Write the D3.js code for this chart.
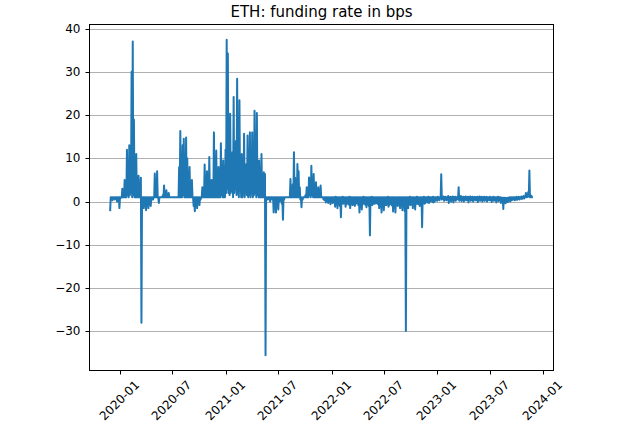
<!DOCTYPE html>
<html><head><meta charset="utf-8">
<script src="https://cdn.jsdelivr.net/npm/d3@7/dist/d3.min.js"></script>
<style>
body{margin:0;background:#fff}
svg{display:block}
text{font-family:"DejaVu Sans",sans-serif;fill:#000}
</style>
</head><body>
<svg id="chart" width="640" height="429"></svg>
<script>
// ---- data ----
const chartTitle = "ETH: funding rate in bps";
const startDate = "2019-11-29";   // first 4-day bin
const stepDays = 4;               // bin width; each bin holds its high and low reading
const binHigh = [
  // Nov 2019 - Jan 2020
  1,1,1,1,1,1,1,1,1,1,
  // Jan - Mar 2020
  3,1,5,1.5,12,3,13,6,30,37,19,4,11,3,6,2,5.5,1,1,
  // Mar - Jul 2020
  1,1,1,1,1,1,1,1,1,
  6.5,2,7,1,1,1,
  1,1.5,3.7,1,2.6,1,2,
  1,1,1,1,1,1,1,1,
  // Jul - Sep 2020
  8,16.3,3,13,14.5,4,14.8,10,3,8,2,5,
  1,1,1,1,1,1,1,1,
  // Oct 2020 - May 2021
  3.3,1,8.6,2,7,1.5,10.3,3,5,1.5,16,4,11.8,2,8,2,13.5,3,9.5,2,12,
  37.4,34.2,5,20.3,3,11.4,24.2,4,14,28.4,3,23.4,5,11,2,15.7,3,8.7,15.3,2,16,3,16,2,21,4,20.5,3,
  9.5,2,11,1.5,6.8,6.4,1,
  // May - Jul 2021
  1,1,1,1,1,1,1,1,1,1,1,1,1,1,1,1,1,1,1,1,
  // Aug - Nov 2021
  5.2,2,4,11.4,5.5,3,8.7,7,3.3,1,1,1,1,1.5,3.3,2,5.6,3,8.3,4,6.4,3,4.5,2,3.3,1.5,3.7,1,1,
  // Dec 2021 - Sep 2022
  1,1,1,1,1,1,1,1,1,1, 1.1,1,1,1,1,1,1.1,1,1,1,
  1,1,1.1,1,1,1,1,1,1,1, 1,1,1,1,1.1,1,1,1,1,1,
  1,1.1,1,1,1,1,1,1,1,1, 1,1,1,1,1,1.1,1,1,1,1,
  1,1,1,1,1,1,1,1,1,1,1,
  1,
  // Sep 2022 - Jan 2023
  1,1,1.1,1,1,1,1,1,1.1,1,1,1,1,1,1.1,1,1,1,1.1,1,1,1,1.1,1,1,1,1.1,1,1,6.3,
  // 2023
  1.1,1.2,1,1.1,1,1.3,1,1.1,1,1.2,1,1.1,1,1.1,3.3,1,1.3,1,1.1,1,
  1.2,1,1.1,1,1.2,1,1.1,1,1.1,1,1.1,1,1.2,1,1.1,1,1.1,1,1.1,1,
  1,1.1,1,1,1.1,1,1,1,1.1,1,1,0.9,0.9,0.9,0.9,0.8,0.9,0.9,1,1,
  1,1,1,1,1.1,1,1.1,1,1.2,1.1,1.3,1.2,2,1.5,2.2,7.2,1.5,1.2,1
];
const binLow = [
  // Nov 2019 - Jan 2020
  -2.2,0.5,0.3,0.8,0.5,1,0,0.6,-1.5,0.8,
  // Jan - Mar 2020
  1,1,1,1,1,1.5,1,1.5,2,1,1.5,1,1,1,1,1,1,-28,1,
  // Mar - Jul 2020
  -1.5,0.5,-2,-0.8,-1.5,0,-1,0.5,0.5,
  1,1,1,1,-0.3,1,
  1,1,1,1,1,1,1,
  1,1,1,1,1,1,1,1,
  // Jul - Sep 2020
  1,1,1,1,1.5,1,1,1,1,1,1,1,
  1,-1,-2.2,-0.5,-1.5,0,-0.8,0.5,
  // Oct 2020 - May 2021
  1,1,1,1,1,1,1,1,1,1,1,1,1,1,1,1,1,1.5,1,1,1,
  2,3,2,1.5,2,2.5,1,2,3,1.5,2,1,2.5,1,1,2,1,3,1.5,1,2,1,2.5,1,1.5,2,1,1.5,
  1,1,1,1,1,1,-35.5,
  // May - Jul 2021
  1,0.5,1,0,1,0.5,-2.5,-1,-2.5,0.5,-1.8,0,0.5,-0.5,-4.2,0.5,1,1,1,1,
  // Aug - Nov 2021
  1,1,1,1,1,1,1,1,1,0.5,-1.3,0.5,1,1,1,1,1,1.5,1,1.5,1,1,1,1,1,1,1,1,1,
  // Dec 2021 - Sep 2022
  0.5,0.3,-0.2,0.2,-0.3,0,-0.6,-0.2,-0.3,0,-1.2,-0.5,-1.5,-0.6,-1.0,-3.6,-0.3,-0.5,-0.4,-1.2,
  -0.6,-0.4,-0.7,-1.5,-0.5,-0.8,-0.6,-1,-0.5,-0.3,-0.8,-2.5,-0.6,-1.8,-0.5,-0.5,-0.7,-1.3,-0.6,-1,
  -7.8,-0.6,-0.8,-0.5,-0.5,-0.4,-0.3,-0.6,-1.5,-0.8,-2.5,-1,-2,-0.8,-0.8,-0.6,-1.2,-0.7,-0.5,-0.9,
  -2.3,-0.8,-2.5,-0.8,-1,-0.6,-1.5,-0.8,-2,-1,-2.2,
  -29.9,
  // Sep 2022 - Jan 2023
  -0.8,-1.5,-0.6,-0.8,-0.5,-1.5,-0.8,-1.8,-0.5,-0.5,-0.6,-1,-0.7,-5.9,-0.4,-0.5,-0.3,0,-0.2,-0.3,0,0.2,-0.1,-0.2,0.1,0.3,0.2,0.5,0.3,1,
  // 2023
  0.5,0.6,0.2,0.5,0.3,0.5,-0.3,0.4,0,0.5,-0.2,0.4,0.2,0.5,0.6,0.2,0.5,0.1,0.4,0,
  0.5,0.3,0.4,-0.2,0.5,0.2,0.4,0,0.5,0.3,0.4,-0.1,0.5,0.2,0.4,0,0.4,0.2,0.5,0,
  0.4,0.3,0.4,-0.1,0.4,0.2,0.3,-0.2,0.3,0.1,0.3,-0.3,0,-1.7,0,-0.4,0,-0.1,0.3,0,
  0.3,0.4,0.5,0.3,0.5,0.4,0.6,0.5,0.7,0.6,0.8,0.7,1,1,1.1,1.2,1,1,1
];
const yTickValues = [-30, -20, -10, 0, 10, 20, 30, 40];
const xTickLabels = ["2020-01","2020-07","2021-01","2021-07","2022-01","2022-07","2023-01","2023-07","2024-01"];

// ---- layout ----
const L = 89, R = 554, T = 24, B = 371;
const svg = d3.select("#chart");

const parse = d3.timeParse("%Y-%m-%d");
const t0 = parse(startDate);
const n = Math.min(binHigh.length, binLow.length);
// each bin: low reading at the bin start, high reading mid-bin
const series = [];
for (let i = 0; i < n; i++) {
  const d = d3.timeDay.offset(t0, i * stepDays);
  series.push({ date: d, v: binLow[i] });
  series.push({ date: d3.timeDay.offset(d, stepDays / 2), v: binHigh[i] });
}

// matplotlib-like 5% margins
const xExt = d3.extent(series, d => +d.date);
const xPad = (xExt[1] - xExt[0]) * 0.05;
const yExt = d3.extent(series, d => d.v);
const yPad = (yExt[1] - yExt[0]) * 0.05;

const x = d3.scaleTime().domain([new Date(xExt[0] - xPad), new Date(xExt[1] + xPad)]).range([L, R]);
const y = d3.scaleLinear().domain([yExt[0] - yPad, yExt[1] + yPad]).range([B, T]);

// grid
svg.append("g").selectAll("line").data(yTickValues).join("line")
  .attr("x1", L).attr("x2", R)
  .attr("y1", d => Math.round(y(d)) + 0.5).attr("y2", d => Math.round(y(d)) + 0.5)
  .attr("stroke", "#b0b0b0").attr("stroke-width", 1);

// clip
svg.append("clipPath").attr("id", "clip").append("rect")
  .attr("x", L).attr("y", T).attr("width", R - L).attr("height", B - T);

// series line
svg.append("path").datum(series)
  .attr("clip-path", "url(#clip)")
  .attr("fill", "none").attr("stroke", "#1f77b4").attr("stroke-width", 2)
  .attr("stroke-linejoin", "round")
  .attr("d", d3.line().x(d => x(d.date)).y(d => y(d.v)));

// frame
svg.append("rect").attr("x", L + 0.5).attr("y", T + 0.5)
  .attr("width", R - L - 1).attr("height", B - T - 1)
  .attr("fill", "none").attr("stroke", "#000").attr("stroke-width", 1);

// y axis
const yAxis = svg.append("g").attr("transform", `translate(${L + 0.5},0)`)
  .call(d3.axisLeft(y).tickValues(yTickValues).tickSize(4).tickPadding(5).tickSizeOuter(0));
yAxis.select(".domain").remove();
yAxis.selectAll(".tick line").attr("stroke", "#000");
yAxis.selectAll(".tick").attr("transform", d => `translate(0,${Math.round(y(d)) + 0.5})`);
yAxis.selectAll("text").attr("font-size", 12).attr("font-family", "DejaVu Sans").attr("fill", "#000");

// x axis
const xTickDates = xTickLabels.map(s => parse(s + "-01"));
const xAxis = svg.append("g").attr("transform", `translate(0,${B - 0.5})`)
  .call(d3.axisBottom(x).tickValues(xTickDates).tickSize(4).tickSizeOuter(0).tickFormat(d3.timeFormat("%Y-%m")));
xAxis.select(".domain").remove();
xAxis.selectAll(".tick").attr("transform", d => `translate(${Math.round(x(d)) + 0.5},0)`);
xAxis.selectAll(".tick line").attr("stroke", "#000");
xAxis.selectAll("text")
  .attr("font-size", 12).attr("font-family", "DejaVu Sans").attr("fill", "#000")
  .attr("y", null).attr("dy", null)
  .attr("text-anchor", "middle").attr("dominant-baseline", "central")
  .attr("transform", "translate(-1,30) rotate(-45)");

// title
svg.append("text").attr("x", (L + R) / 2).attr("y", 17)
  .attr("text-anchor", "middle").attr("font-size", 15)
  .text(chartTitle);
</script>
</body></html>
